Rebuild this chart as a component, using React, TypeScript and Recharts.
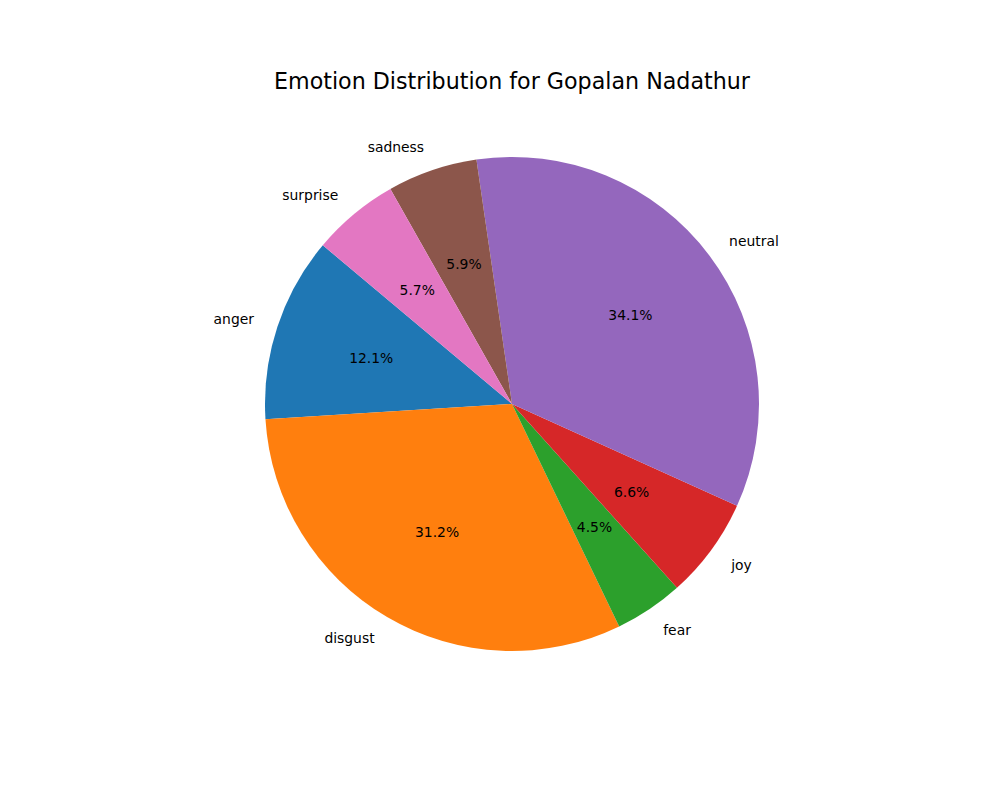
import React from 'react';
import { PieChart, Pie, Cell } from 'recharts';

const emotions = ['anger', 'disgust', 'fear', 'joy', 'neutral', 'sadness', 'surprise'];
const shares = [12.1, 31.2, 4.5, 6.6, 34.1, 5.9, 5.7];
const colors = ['#1f77b4', '#ff7f0e', '#2ca02c', '#d62728', '#9467bd', '#8c564b', '#e377c2'];

const data = emotions.map((name, i) => ({ name, value: shares[i] }));

const RADIAN = Math.PI / 180;
const font = 'DejaVu Sans, sans-serif';

function renderLabel(props: any) {
  const { cx, cy, midAngle, outerRadius, name, value } = props;
  const cos = Math.cos(-midAngle * RADIAN);
  const sin = Math.sin(-midAngle * RADIAN);
  const lr = outerRadius * 1.1;
  const pr = outerRadius * 0.6;
  const lx = cx + lr * cos;
  const ly = cy + lr * sin;
  const px = cx + pr * cos;
  const py = cy + pr * sin;
  return (
    <g>
      <text
        x={lx}
        y={ly}
        textAnchor={cos > 0 ? 'start' : 'end'}
        dominantBaseline="central"
        fill="#000"
        fontSize={13.9}
        fontFamily={font}
      >
        {name}
      </text>
      <text
        x={px}
        y={py}
        textAnchor="middle"
        dominantBaseline="central"
        fill="#000"
        fontSize={13.9}
        fontFamily={font}
      >
        {value.toFixed(1)}%
      </text>
    </g>
  );
}

export default function App() {
  return (
    <div style={{ position: 'absolute', left: 0, top: 0, width: 1000, height: 800, background: '#fff' }}>
      {/* Title */}
      <div
        style={{
          position: 'absolute',
          left: 0,
          top: 66,
          width: 1024,
          textAlign: 'center',
          fontFamily: font,
          fontSize: 22.2,
          color: '#000',
          lineHeight: '30px',
        }}
      >
        Emotion Distribution for Gopalan Nadathur
      </div>
      <PieChart width={1000} height={800} margin={{ top: 0, right: 0, bottom: 0, left: 0 }}>
        <Pie
          data={data}
          dataKey="value"
          nameKey="name"
          cx={512}
          cy={404}
          outerRadius={247}
          startAngle={140}
          endAngle={500}
          stroke="none"
          label={renderLabel}
          labelLine={false}
          isAnimationActive={false}
        >
          {data.map((d, i) => (
            <Cell key={d.name} fill={colors[i]} />
          ))}
        </Pie>
      </PieChart>
    </div>
  );
}
